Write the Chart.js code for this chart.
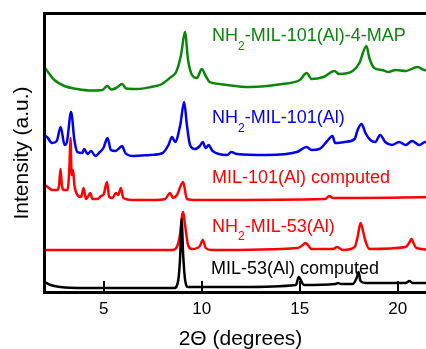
<!DOCTYPE html>
<html><head><meta charset="utf-8">
<script src="https://cdn.jsdelivr.net/npm/chart.js@4/dist/chart.umd.min.js"></script>
<style>html,body{margin:0;padding:0;overflow:hidden;background:#fff;width:426px;height:349px}canvas{display:block}</style>
</head><body><canvas id="c" width="436" height="349"></canvas>
<script>
// ---- data (2θ in degrees, intensity in a.u. incl. vertical stacking offset) ----
const xTickValues = [5, 10, 15, 20];

const mil53CompX = [2.0,2.28,2.79,3.96,8.6,8.8,8.9,8.97,9.05,9.15,9.3,10.0,12.0,14.8,14.95,15.05,15.2,16.8,16.95,17.1,17.7,17.9,18.0,18.1,18.35,20.4,20.6,20.75,21.95];
const mil53CompY = [11,8,6,5,5,13,38,74,38,13,6,6,6,8,16,13,8,9,10,9,9,15,21,12,10,10,12,10,10];

const nh2Mil53X = [2.0,8.5,8.75,8.9,9.0,9.05,9.12,9.2,9.3,9.5,9.9,10.05,10.2,10.5,14.9,15.15,15.3,15.45,15.6,16.7,16.9,17.2,17.8,17.95,18.1,18.25,18.35,18.55,20.4,20.6,20.7,20.8,20.95,21.95];
const nh2Mil53Y = [43,43,47,60,78,81,72,60,48,44,47,53,45,43,45,48,50,47,44,44,46,43,46,56,70,60,52,44,46,51,54,50,45,43];

const mil101CompX = [2.0,2.2,2.38,2.63,2.72,2.79,2.86,2.95,3.15,3.25,3.3,3.36,3.43,3.5,3.65,3.84,3.97,4.09,4.18,4.31,4.42,4.67,4.86,5.0,5.16,5.28,5.44,5.62,5.74,5.87,6.0,6.5,7.5,8.13,8.38,8.53,8.73,9.05,9.24,9.75,10.4,16.3,16.5,16.7,21.95];
const mil101CompY = [108,105,103,103,108,124,108,103,103,128,155,118,123,108,98,96,105,94,96,100,94,94,97,99,111,96,95,100,98,105,95,93,93,94,100,95,98,111,94,93,93,94,97,95,96];

const nh2Mil101X = [2.0,2.1,2.36,2.6,2.8,3.0,3.12,3.33,3.5,3.65,3.9,4.0,4.17,4.35,4.57,4.8,4.98,5.19,5.36,5.58,5.8,5.93,6.1,6.5,7.36,8.0,8.3,8.48,8.64,8.9,9.1,9.24,9.4,9.65,9.9,10.05,10.2,10.35,10.55,11.3,11.5,11.8,13.3,14.85,15.35,15.6,16.0,16.4,16.67,16.8,17.28,17.8,17.95,18.15,18.35,18.6,18.85,19.1,19.36,19.7,20.07,20.4,20.73,21.1,21.4,21.95];
const nh2Mil101Y = [157,156,150,152,166,148,151,181,153,141,140,144,139,142,137,141,145,155,143,142,145,147,140,137,138,140,148,156,151,168,191,168,148,144,147,151,145,148,142,138,141,139,138,141,146,143,144,152,157,150,151,154,163,169,160,153,151,158,151,148,151,148,152,148,151,149];

const mapX = [2.0,2.48,2.99,3.65,4.36,4.92,5.18,5.38,5.63,5.94,6.14,6.7,7.41,7.92,8.43,8.69,8.94,9.14,9.3,9.5,9.75,10.0,10.2,10.4,10.9,12.45,14.1,15.0,15.35,15.6,16.2,16.77,17.0,17.7,18.04,18.4,18.55,18.8,19.2,19.5,19.9,20.4,21.0,21.35,21.95];
const mapY = [225,213,207,204,202.5,203,207,203.5,205,209,204.5,204,206,208.5,216,221,238,261,233,218,215,224,217,211,209,206,209,213,220,214,216,222,219,222,230,247,235,225,223,221,223,222,226,223,222];

const seriesLabels = [
  [{t:'MIL-53(Al) computed'}],
  [{t:'NH'},{t:'2',sub:true},{t:'-MIL-53(Al)'}],
  [{t:'MIL-101(Al) computed'}],
  [{t:'NH'},{t:'2',sub:true},{t:'-MIL-101(Al)'}],
  [{t:'NH'},{t:'2',sub:true},{t:'-MIL-101(Al)-4-MAP'}]
];
const xTitle = '2\u0398 (degrees)';
const yTitle = 'Intensity (a.u.)';

// ---- styling ----
const colors = ['#000000','#ff0000','#ff0000','#0000ee','#0a860a'];
const labelPos = [[211,274],[212,231.5],[212,183],[212,123],[212,41]];
const FONT = '"Liberation Sans", Arial, Helvetica, sans-serif';

function pts(xs, ys){ return xs.map((x,i)=>({x:x, y:ys[i]})); }
const sets = [[mil53CompX,mil53CompY],[nh2Mil53X,nh2Mil53Y],[mil101CompX,mil101CompY],[nh2Mil101X,nh2Mil101Y],[mapX,mapY]];

const frame = {
  id:'frame',
  afterDatasetsDraw(chart){
    const {ctx, chartArea:a, scales:{x}} = chart;
    ctx.save();
    ctx.strokeStyle = '#000';
    ctx.lineWidth = 3;
    ctx.beginPath();
    ctx.moveTo(a.right+5, a.top+0.5); ctx.lineTo(a.left-0.5, a.top+0.5);
    ctx.lineTo(a.left-0.5, a.bottom-0.5); ctx.lineTo(a.right+5, a.bottom-0.5);
    ctx.stroke();
    ctx.lineWidth = 2;
    xTickValues.forEach(v=>{
      const px = Math.round(x.getPixelForValue(v));
      ctx.beginPath(); ctx.moveTo(px, a.bottom-1); ctx.lineTo(px, a.bottom-12); ctx.stroke();
    });
    // series labels
    ctx.textBaseline = 'alphabetic';
    ctx.textAlign = 'left';
    seriesLabels.forEach((parts,i)=>{
      let [lx, ly] = labelPos[i];
      ctx.fillStyle = colors[i];
      parts.forEach(p=>{
        if(p.sub){ ctx.font = '12px '+FONT; ctx.fillText(p.t, lx, ly+8.5); lx += ctx.measureText(p.t).width; }
        else { ctx.font = '18px '+FONT; ctx.fillText(p.t, lx, ly); lx += ctx.measureText(p.t).width; }
      });
    });
    ctx.restore();
  }
};

new Chart(document.getElementById('c'), {
  type:'line',
  data:{ datasets: sets.map((s,i)=>({
    data: pts(s[0], s[1]),
    borderColor: colors[i],
    backgroundColor: colors[i],
    borderWidth: 2.5,
    pointRadius: 0,
    cubicInterpolationMode: 'monotone',
    fill:false
  }))},
  options:{
    responsive:false,
    animation:false,
    events:[],
    layout:{padding:{top:13,left:0,right:0,bottom:0}},
    plugins:{legend:{display:false},tooltip:{enabled:false}},
    scales:{
      x:{
        type:'linear', min:2, max:21.95,
        grid:{display:false, drawTicks:false},
        border:{display:false},
        afterBuildTicks(s){ s.ticks = xTickValues.map(v=>({value:v})); },
        afterFit(s){ s.height = 56; },
        ticks:{color:'#000', font:{family:FONT,size:17}, padding:6, maxRotation:0, autoSkip:false},
        title:{display:true, text:xTitle, color:'#000', font:{family:FONT,size:21,lineHeight:1}, padding:{top:0,bottom:-1}}
      },
      y:{
        type:'linear', min:0, max:280,
        grid:{display:false, drawTicks:false},
        border:{display:false},
        ticks:{display:false},
        afterFit(s){ s.width = 45; },
        title:{display:true, text:yTitle, color:'#000', font:{family:FONT,size:21,lineHeight:1}, padding:{top:12,bottom:0}}
      }
    }
  },
  plugins:[frame]
});
</script></body></html>
